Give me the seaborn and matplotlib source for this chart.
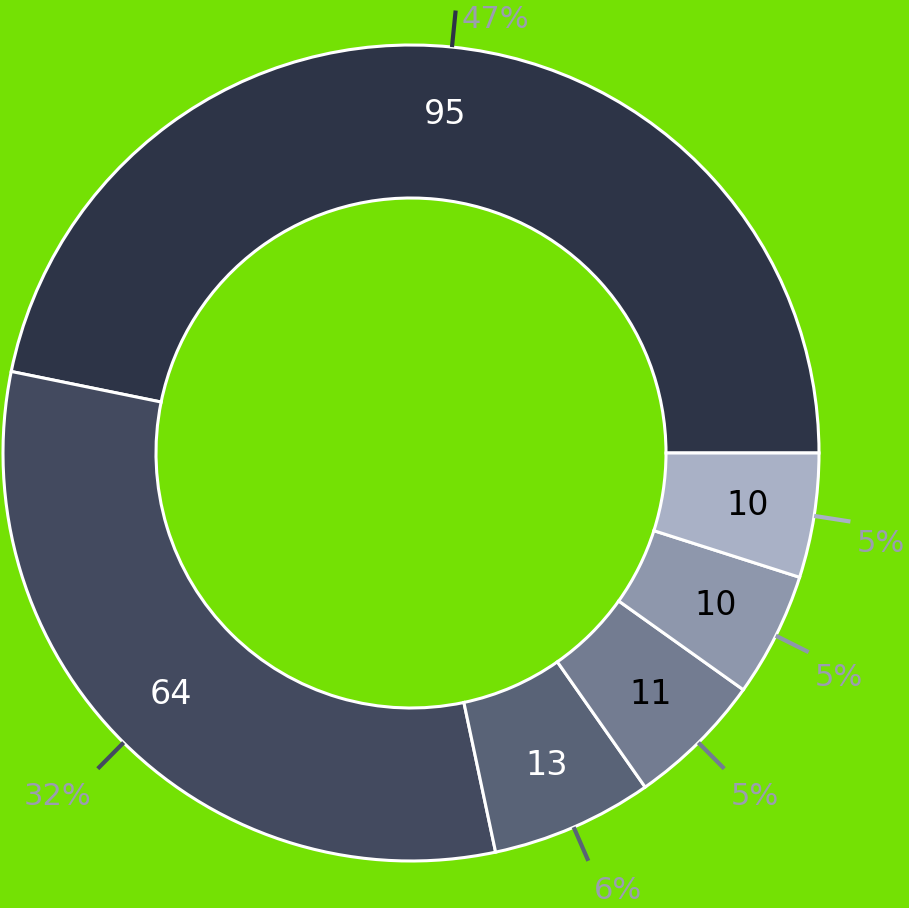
import numpy as np
import matplotlib
matplotlib.use('Agg')
import matplotlib.pyplot as plt
import seaborn as sns

# Data
values = [95, 64, 13, 11, 10, 10]
colors = ['#2d3447', '#434a5f', '#596377', '#737c91', '#8e97ac', '#a9b1c6']
value_text_colors = ['white', 'white', 'white', 'black', 'black', 'black']
bg = '#74e104'

sns.set_theme(style='white')
plt.rcParams['font.family'] = ['DejaVu Sans']

fig = plt.figure(figsize=(9.09, 9.08), dpi=100, facecolor=bg)
ax = fig.add_axes([0, 0, 1, 1])
ax.set_facecolor(bg)

# Donut
wedges, _ = ax.pie(values, colors=colors, startangle=0, counterclock=True, radius=1.0,
                   wedgeprops=dict(width=0.375, edgecolor='white', linewidth=2.2))

total = sum(values)
px = 1 / 408
for w, v, tc, c in zip(wedges, values, value_text_colors, colors):
    ang = np.deg2rad((w.theta1 + w.theta2) / 2)
    ca, sa = np.cos(ang), np.sin(ang)
    # value inside ring
    ax.text(0.835 * ca, 0.835 * sa, str(v), color=tc, fontsize=24,
            ha='center', va='center')
    # leader line
    ax.plot([1.0 * ca, 1.09 * ca], [1.0 * sa, 1.09 * sa], color=c, lw=3,
            solid_capstyle='butt')
    # percentage
    ex, ey = 1.09 * ca, 1.09 * sa
    dx = 6 * px if ca >= 0 else -6 * px
    dy = (20 - 11 * sa) * px
    ax.text(ex + dx, ey - dy, f'{round(v / total * 100)}%', color='#9b9db0',
            fontsize=22, ha='left' if ca >= 0 else 'right', va='center')

ax.set_xlim(-411 / 408, (909 - 411) / 408)
ax.set_ylim(-455 / 408, 453 / 408)
ax.set_aspect('auto')
ax.axis('off')

fig.savefig('out.png', dpi=100, facecolor=bg)
